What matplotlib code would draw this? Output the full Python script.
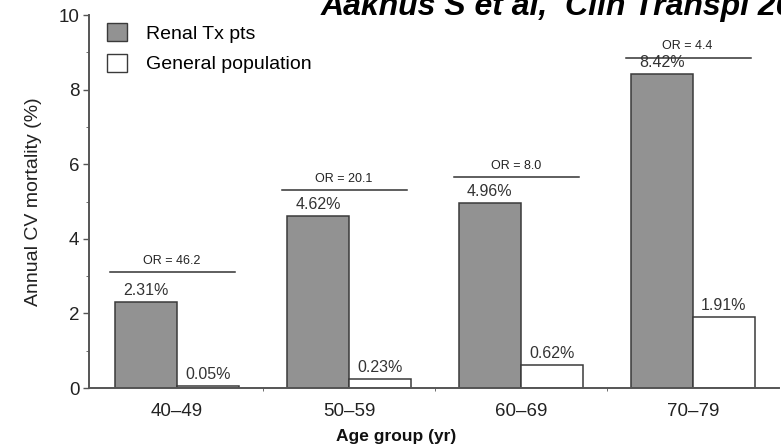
import numpy as np
import matplotlib.pyplot as plt
from matplotlib.patches import Patch

plt.rcParams['font.family'] = ['Liberation Sans', 'DejaVu Sans']

groups = ['40\u201349', '50\u201359', '60\u201369', '70\u201379']
renal = [2.31, 4.62, 4.96, 8.42]
general = [0.05, 0.23, 0.62, 1.91]
or_labels = ['OR = 46.2', 'OR = 20.1', 'OR = 8.0', 'OR = 4.4']
or_level = [3.1, 5.3, 5.65, 8.85]

fig = plt.figure(figsize=(7.81, 4.46), dpi=100)
ax = fig.add_axes([0.114, 0.130, 0.883, 0.836])

x = np.arange(len(groups))
w = 0.36
ax.bar(x - w / 2, renal, w, color='#929292', edgecolor='#3a3a3a', linewidth=1.1)
ax.bar(x + w / 2, general, w, color='white', edgecolor='#3a3a3a', linewidth=1.1)

for xi, v in zip(x, renal):
    ax.annotate(f'{v:.2f}%', (xi - w / 2, v), xytext=(0, 3), textcoords='offset points',
                ha='center', va='bottom', fontsize=11.5, color='#333333')
for xi, v in zip(x, general):
    ax.annotate(f'{v:.2f}%', (xi + w / 2, v), xytext=(0, 3), textcoords='offset points',
                ha='center', va='bottom', fontsize=11.5, color='#333333')

# odds-ratio brackets
for xi, lvl, lab in zip(x, or_level, or_labels):
    ax.plot([xi - w - 0.03, xi + w - 0.02], [lvl, lvl], color='#333333', lw=1.1)
    ax.annotate(lab, (xi - 0.03, lvl), xytext=(0, 4), textcoords='offset points',
                ha='center', va='bottom', fontsize=9, color='#222222')

ax.set_xlim(-0.512, 3.5)
ax.set_ylim(0, 10)
ax.set_xticks(x)
ax.set_xticklabels(groups, fontsize=13.5, color='#222222')
ax.set_xticks([0.5, 1.5, 2.5], minor=True)
ax.tick_params(axis='x', which='major', length=0, pad=11)
ax.tick_params(axis='x', which='minor', length=2.5, color='#555555')
ax.set_yticks([0, 2, 4, 6, 8, 10])
ax.set_yticks([1, 3, 5, 7, 9], minor=True)
ax.tick_params(axis='y', which='major', length=4, width=1, labelsize=13.5, pad=3,
               color='#555555', labelcolor='#222222')
ax.tick_params(axis='y', which='minor', length=2.5, color='#555555')

for s in ['top', 'right']:
    ax.spines[s].set_visible(False)
for s in ['left', 'bottom']:
    ax.spines[s].set_color('#555555')
    ax.spines[s].set_linewidth(1.4)

ax.set_ylabel('Annual CV mortality (%)', fontsize=14, color='#222222', labelpad=12)
ax.set_xlabel('Age group (yr)', fontsize=12.5, fontweight='bold', color='#111111')
ax.xaxis.set_label_coords(0.445, -0.11)

handles = [Patch(facecolor='#929292', edgecolor='#3a3a3a'),
           Patch(facecolor='white', edgecolor='#3a3a3a')]
ax.legend(handles, ['Renal Tx pts', 'General population'], loc='upper left',
          bbox_to_anchor=(0.0, 1.025), frameon=False, fontsize=14,
          handlelength=1.05, handleheight=1.05, labelspacing=0.55, handletextpad=1.0)

# citation, runs off the top/right edge as in the source image
fig.text(0.41, 0.967, 'Aakhus S et al,  Clin Transpl 2000', fontsize=23,
         fontweight='bold', style='italic', ha='left', va='baseline')

fig.savefig('out.png', dpi=100)
